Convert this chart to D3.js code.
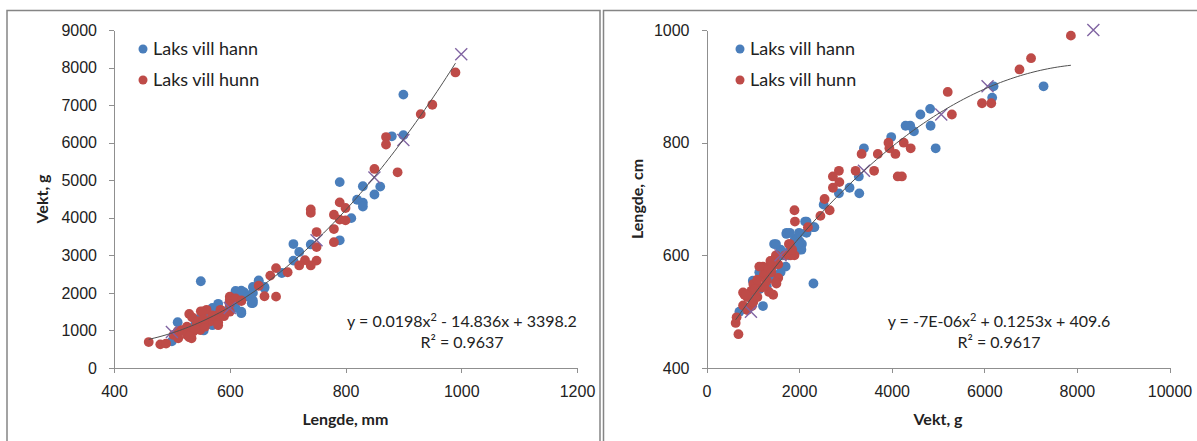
<!DOCTYPE html>
<html lang="no">
<head>
    <meta charset="UTF-8">
    <title>Laks vill - lengde og vekt</title>
    <script src="https://cdnjs.cloudflare.com/ajax/libs/d3/7.8.5/d3.min.js"></script>
    <style>
        body { margin: 0; background: #fff; }
        svg { display: block; font-family: Lato, "Open Sans", sans-serif; }
        .axis path, .axis line { stroke: #8f8f8f; stroke-width: 1; shape-rendering: crispEdges; }
        .axis text { font-size: 16px; fill: #222; }
        .title { font-size: 16px; font-weight: bold; fill: #222; }
        .legend text { font-size: 18px; fill: #222; }
        .eq { font-size: 16px; fill: #222; }
    </style>
</head>
<body>
<svg id="chart" width="1197" height="441"></svg>
<script>
    // hann (blue) - length mm / weight g
    const hannLengde = [900, 880, 900, 790, 830, 860, 850, 820, 830, 830, 810, 790, 740, 710, 720,
        710, 690, 650, 660, 640, 550, 610, 620, 630, 640, 620, 610, 580, 570, 570, 600, 510, 500,
        650, 620, 638, 560, 565, 530, 540, 545, 555, 520, 590, 600, 615, 625, 605, 570, 600, 640,
        640, 660, 610, 620];
    const hannVekt = [7280, 6170, 6200, 4950, 4840, 4830, 4620, 4480, 4400, 4300, 3990, 3400, 3290, 3300, 3090,
        2860, 2530, 2330, 2160, 2160, 2310, 2000, 2060, 1910, 1730, 1460, 1600, 1710, 1600, 1200, 1780, 1220, 710,
        2300, 1500, 1725, 1370, 1450, 1050, 1150, 1300, 1000, 1000, 1500, 1650, 2035, 2010, 1760, 1140, 1580, 1800,
        2000, 2130, 2050, 1970];

    // hunn (red)
    const hunnLengde = [990, 950, 930, 870, 870, 850, 890, 790, 740, 740, 780, 800, 790, 800, 780,
        750, 780, 750, 730, 750, 740, 720, 700, 680, 670, 650, 660, 680, 600, 600, 620, 600, 580,
        580, 570, 560, 550, 530, 460, 480, 490, 530, 510, 503, 517, 526, 535, 534, 543, 552, 566,
        578, 592, 537, 549, 557, 526, 511, 584, 540, 545, 555, 570, 590, 610, 620, 600, 530, 580];
    const hunnVekt = [7870, 7010, 6760, 6150, 5950, 5300, 5210, 4410, 4220, 4130, 4080, 4260, 3950, 3930, 3700,
        3620, 3350, 3220, 2870, 2860, 2730, 2730, 2550, 2660, 2460, 2190, 1910, 1900, 1900, 1820, 1800, 1500, 1420,
        1220, 1290, 1550, 1510, 1440, 690, 630, 650, 820, 980, 880, 1010, 1100, 1350, 790, 1190, 1500, 1240,
        1320, 1460, 970, 1010, 1100, 880, 790, 1550, 1050, 1250, 1300, 1400, 1380, 1850, 1780, 1700, 850, 1140];

    // purple crosses
    const refLengde = [500, 600, 750, 850, 900, 1000];
    const refVekt = [960, 1600, 3400, 5070, 6070, 8355];

    const lengdeTicks = [400, 600, 800, 1000, 1200];
    const vektTicks = [0, 1000, 2000, 3000, 4000, 5000, 6000, 7000, 8000, 9000];
    const vektTicks2 = [0, 2000, 4000, 6000, 8000, 10000];
    const lengdeTicks2 = [400, 600, 800, 1000];

    // polynomial trend coefficients [a, b, c]
    const fitLengdeVekt = [0.0198, -14.836, 3398.2];
    const fitVektLengde = [-7.4e-6, 0.1253, 409.6];

    const seriesNames = ['Laks vill hann', 'Laks vill hunn'];
    const colors = { hann: '#4a7ebb', hunn: '#be4b48', ref: '#8064a2' };

    const svg = d3.select('#chart');

    // panel frames
    svg.append('rect').attr('x', 7).attr('y', 10.5).attr('width', 593).attr('height', 440)
        .attr('fill', 'none').attr('stroke', '#858585').attr('stroke-width', 1.5);
    svg.append('rect').attr('x', 603.5).attr('y', 10.5).attr('width', 600).attr('height', 440)
        .attr('fill', 'none').attr('stroke', '#858585').attr('stroke-width', 1.5);

    function drawPanel(p) {
        const g = svg.append('g');
        const x = d3.scaleLinear().domain(p.xDomain).range(p.xRange);
        const y = d3.scaleLinear().domain(p.yDomain).range([368, 30]);

        g.append('g').attr('class', 'axis')
            .attr('transform', 'translate(0,368)')
            .call(d3.axisBottom(x).tickValues(p.xTicks).tickSize(5).tickSizeOuter(0).tickPadding(13)
                .tickFormat(d3.format('d')));
        g.append('g').attr('class', 'axis')
            .attr('transform', `translate(${p.xRange[0]},0)`)
            .call(d3.axisLeft(y).tickValues(p.yTicks).tickSize(5).tickSizeOuter(0).tickPadding(12)
                .tickFormat(d3.format('d')));

        const pts = (xs, ys) => xs.map((v, i) => [v, ys[i]]);

        g.append('g').selectAll('circle')
            .data(pts(p.hannX, p.hannY))
            .join('circle')
            .attr('cx', d => x(d[0])).attr('cy', d => y(d[1])).attr('r', 4.9)
            .attr('fill', colors.hann);
        g.append('g').selectAll('circle')
            .data(pts(p.hunnX, p.hunnY))
            .join('circle')
            .attr('cx', d => x(d[0])).attr('cy', d => y(d[1])).attr('r', 4.9)
            .attr('fill', colors.hunn);
        g.append('g').selectAll('path')
            .data(pts(p.refX, p.refY))
            .join('path')
            .attr('transform', d => `translate(${x(d[0])},${y(d[1])})`)
            .attr('d', 'M-6,-6L6,6M-6,6L6,-6')
            .attr('stroke', colors.ref).attr('stroke-width', 1.4).attr('fill', 'none');

        // trendline over the span of the data
        const allX = p.hannX.concat(p.hunnX);
        const [lo, hi] = d3.extent(allX);
        const [a, b, c] = p.fit;
        const steps = d3.range(0, 101).map(i => lo + (hi - lo) * i / 100);
        g.append('path')
            .datum(steps)
            .attr('fill', 'none').attr('stroke', '#505050').attr('stroke-width', 1)
            .attr('d', d3.line().x(v => x(v)).y(v => y(a * v * v + b * v + c)));

        // legend
        const lg = g.append('g').attr('class', 'legend');
        [colors.hann, colors.hunn].forEach((col, i) => {
            const yy = 49 + i * 31;
            lg.append('circle').attr('cx', p.legendX).attr('cy', yy).attr('r', 4.5).attr('fill', col);
            lg.append('text').attr('x', p.legendX + 10).attr('y', yy).attr('dy', '0.36em').text(seriesNames[i]);
        });

        // equation
        const eq = g.append('text').attr('class', 'eq').attr('x', p.eqX).attr('y', 327).attr('text-anchor', 'middle');
        eq.append('tspan').text(p.eq[0]);
        eq.append('tspan').attr('dy', -6).attr('font-size', 11).text('2');
        eq.append('tspan').attr('dy', 6).text(p.eq[1]);
        g.append('text').attr('class', 'eq').attr('x', p.eqX).attr('y', 348).attr('text-anchor', 'middle')
            .text(p.r2);

        // axis titles
        g.append('text').attr('class', 'title')
            .attr('transform', `translate(${p.yTitleX},199) rotate(-90)`)
            .attr('text-anchor', 'middle').attr('dy', '0.35em').text(p.yTitle);
        g.append('text').attr('class', 'title')
            .attr('x', (p.xRange[0] + p.xRange[1]) / 2).attr('y', 419)
            .attr('text-anchor', 'middle').attr('dy', '0.35em').text(p.xTitle);
    }

    drawPanel({
        xDomain: [400, 1200], xRange: [114, 577], yDomain: [0, 9000],
        xTicks: lengdeTicks, yTicks: vektTicks,
        hannX: hannLengde, hannY: hannVekt, hunnX: hunnLengde, hunnY: hunnVekt,
        refX: refLengde, refY: refVekt,
        fit: fitLengdeVekt,
        legendX: 143, eqX: 462,
        eq: ['y = 0.0198x', ' - 14.836x + 3398.2'], r2: 'R² = 0.9637',
        yTitleX: 42, yTitle: 'Vekt, g', xTitle: 'Lengde, mm'
    });

    drawPanel({
        xDomain: [0, 10000], xRange: [706.5, 1169.5], yDomain: [400, 1000],
        xTicks: vektTicks2, yTicks: lengdeTicks2,
        hannX: hannVekt, hannY: hannLengde, hunnX: hunnVekt, hunnY: hunnLengde,
        refX: refVekt, refY: refLengde,
        fit: fitVektLengde,
        legendX: 740, eqX: 999,
        eq: ['y = -7E-06x', ' + 0.1253x + 409.6'], r2: 'R² = 0.9617',
        yTitleX: 637, yTitle: 'Lengde, cm', xTitle: 'Vekt, g'
    });
</script>
</body>
</html>
